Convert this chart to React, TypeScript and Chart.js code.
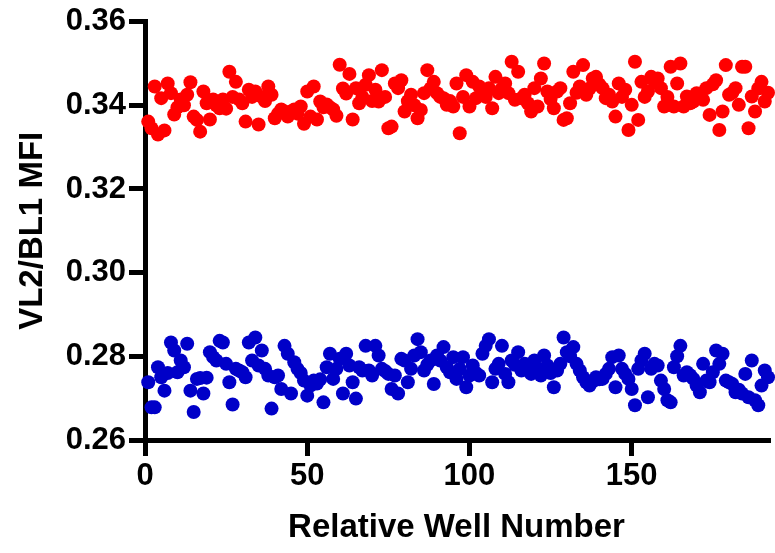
import { useEffect, useRef } from "react";
import { Chart, registerables } from "chart.js";

Chart.register(...registerables);

// Relative well numbers run 1..192; values below are listed in well order.
const redValues = [
  0.3361, 0.3345, 0.3445, 0.333, 0.3417, 0.334, 0.3452, 0.3429, 0.3378, 0.3395,
  0.3414, 0.34, 0.3425, 0.3455, 0.3373, 0.3365, 0.3337, 0.3433, 0.3405, 0.3366,
  0.3414, 0.34, 0.3393, 0.3414, 0.3392, 0.348, 0.342, 0.3456, 0.3414, 0.3405,
  0.3361, 0.3437, 0.342, 0.3433, 0.3354, 0.342, 0.341, 0.3445, 0.3425, 0.3369,
  0.338, 0.339, 0.3385, 0.3373, 0.3385, 0.339, 0.338, 0.3397, 0.3356, 0.3433,
  0.3373, 0.3445, 0.3366, 0.3409, 0.3395, 0.3402, 0.3395, 0.339, 0.3375, 0.3497,
  0.344, 0.3428, 0.3475, 0.3366, 0.3441, 0.3405, 0.342, 0.3449, 0.3472, 0.341,
  0.3437, 0.3409, 0.3484, 0.342, 0.3345, 0.3349, 0.3452, 0.3441, 0.346, 0.3385,
  0.341, 0.3425, 0.34, 0.3369, 0.3389, 0.3429, 0.3484, 0.344, 0.3456, 0.3429,
  0.342, 0.3417, 0.3401, 0.341, 0.3397, 0.3452, 0.3333, 0.342, 0.3472, 0.3397,
  0.3456, 0.3417, 0.3445, 0.3425, 0.342, 0.3441, 0.3393, 0.3468, 0.3429, 0.344,
  0.3452, 0.3429, 0.3504, 0.3413, 0.348, 0.3417, 0.3425, 0.3405, 0.3385, 0.3441,
  0.3397, 0.3464, 0.35, 0.3433, 0.3415, 0.3393, 0.3433, 0.3441, 0.3365, 0.3369,
  0.3405, 0.348, 0.343, 0.3445, 0.3496, 0.3425, 0.344, 0.3464, 0.3468, 0.345,
  0.3441, 0.3417, 0.3425, 0.3409, 0.3373, 0.3452, 0.342, 0.3437, 0.3341, 0.3401,
  0.3504, 0.3365, 0.3456, 0.342, 0.3433, 0.3468, 0.3456, 0.3464, 0.3441, 0.3397,
  0.342, 0.3492, 0.3397, 0.3452, 0.35, 0.3397, 0.3421, 0.3405, 0.3409, 0.3429,
  0.342, 0.3413, 0.3441, 0.3377, 0.345, 0.346, 0.3341, 0.3385, 0.3496, 0.3425,
  0.343, 0.3441, 0.3401, 0.3492, 0.3492, 0.3345, 0.3421, 0.3385, 0.344, 0.3456,
  0.3409, 0.343,
];

const blueValues = [
  0.2738, 0.2678, 0.2678, 0.2774, 0.275, 0.2718, 0.276, 0.2833, 0.2814, 0.2762,
  0.279, 0.2774, 0.283, 0.2718, 0.2667, 0.2746, 0.2748, 0.2711, 0.2749, 0.281,
  0.2798, 0.279, 0.2837, 0.2833, 0.2782, 0.2738, 0.2685, 0.277, 0.2766, 0.2762,
  0.275, 0.2833, 0.279, 0.2845, 0.2778, 0.2814, 0.277, 0.2754, 0.2675, 0.275,
  0.2754, 0.2722, 0.2825, 0.2806, 0.2711, 0.2786, 0.277, 0.276, 0.2742, 0.2706,
  0.273, 0.2742, 0.2735, 0.2745, 0.269, 0.2774, 0.2806, 0.2746, 0.277, 0.2794,
  0.2711, 0.2806, 0.2778, 0.2738, 0.2699, 0.2774, 0.2766, 0.2825, 0.2766, 0.2754,
  0.2825, 0.2802, 0.277, 0.2765, 0.2758, 0.2722, 0.2754, 0.2711, 0.2794, 0.279,
  0.2738, 0.277, 0.2802, 0.2841, 0.281, 0.2766, 0.278, 0.279, 0.2734, 0.2802,
  0.279, 0.2822, 0.2774, 0.2762, 0.2798, 0.2746, 0.277, 0.2798, 0.2726, 0.2754,
  0.2778, 0.276, 0.2754, 0.2806, 0.2825, 0.2841, 0.2738, 0.277, 0.2782, 0.2825,
  0.2758, 0.2738, 0.279, 0.278, 0.281, 0.2766, 0.2782, 0.277, 0.2758, 0.279,
  0.277, 0.2754, 0.2802, 0.2778, 0.276, 0.2726, 0.2766, 0.2782, 0.2845, 0.281,
  0.28, 0.2822, 0.2782, 0.2766, 0.275, 0.2738, 0.273, 0.274, 0.275, 0.2745,
  0.2746, 0.2758, 0.277, 0.2798, 0.2726, 0.2802, 0.277, 0.2758, 0.2746, 0.2722,
  0.2683, 0.277, 0.279, 0.2806, 0.2702, 0.277, 0.2782, 0.2778, 0.2742, 0.2722,
  0.2695, 0.269, 0.2774, 0.28, 0.2825, 0.2754, 0.2762, 0.2755, 0.2746, 0.273,
  0.2714, 0.2782, 0.2742, 0.2738, 0.2762, 0.2814, 0.2782, 0.2806, 0.2742, 0.2738,
  0.2734, 0.2714, 0.272, 0.2711, 0.2758, 0.2702, 0.279, 0.2695, 0.2683, 0.273,
  0.2766, 0.275,
];

const xTickValues = [0, 50, 100, 150];
const yTickValues = [0.26, 0.28, 0.3, 0.32, 0.34, 0.36];
const xTitle = "Relative Well Number";
const yTitle = "VL2/BL1 MFI";

const FONT = "'Liberation Sans', Arial, Helvetica, sans-serif";

export default function App() {
  const ref = useRef<HTMLCanvasElement | null>(null);

  useEffect(() => {
    document.body.style.margin = "0";
    if (!ref.current) return;
    const toPoints = (vals: number[]) => vals.map((v, i) => ({ x: i + 1, y: v }));
    const tickFont = { family: FONT, size: 31, weight: "bold" as const };
    const titleFont = { family: FONT, size: 33, weight: "bold" as const };
    const chart = new Chart(ref.current, {
      type: "scatter",
      data: {
        datasets: [
          {
            label: "red",
            data: toPoints(redValues),
            backgroundColor: "#ff0000",
            borderWidth: 0,
            pointRadius: 7,
            pointHoverRadius: 7,
            clip: false as any,
          },
          {
            label: "blue",
            data: toPoints(blueValues),
            backgroundColor: "#0000c8",
            borderWidth: 0,
            pointRadius: 7,
            pointHoverRadius: 7,
            clip: false as any,
          },
        ],
      },
      options: {
        animation: false,
        responsive: false,
        maintainAspectRatio: false,
        layout: { padding: { top: 20, right: 0, bottom: 0, left: 0 } },
        plugins: { legend: { display: false }, tooltip: { enabled: false } },
        scales: {
          x: {
            type: "linear",
            min: 0,
            max: 192,
            afterBuildTicks: (s: any) => {
              s.ticks = xTickValues.map((v) => ({ value: v }));
            },
            afterFit: (s: any) => {
              s.height = 113;
            },
            ticks: {
              color: "#000",
              font: tickFont,
              padding: 2,
              maxRotation: 0,
              autoSkip: false,
              callback: (v: any) => String(v),
            },
            grid: {
              drawOnChartArea: false,
              drawTicks: true,
              tickLength: 16,
              lineWidth: 5,
              color: "#000",
            },
            border: { display: true, width: 5, color: "#000" },
            title: {
              display: true,
              text: xTitle,
              color: "#000",
              font: titleFont,
              padding: { top: 0, bottom: 5 },
            },
          },
          y: {
            type: "linear",
            min: 0.26,
            max: 0.36,
            afterBuildTicks: (s: any) => {
              s.ticks = yTickValues.map((v) => ({ value: v }));
            },
            afterFit: (s: any) => {
              s.width = 145;
            },
            ticks: {
              color: "#000",
              font: tickFont,
              padding: 3,
              autoSkip: false,
              callback: (v: any) => Number(v).toFixed(2),
            },
            grid: {
              drawOnChartArea: false,
              drawTicks: true,
              tickLength: 16,
              lineWidth: 5,
              color: "#000",
            },
            border: { display: true, width: 5, color: "#000" },
            title: {
              display: true,
              text: yTitle,
              color: "#000",
              font: titleFont,
              padding: { top: 13, bottom: 0 },
            },
          },
        },
      },
    });
    return () => chart.destroy();
  }, []);

  return (
    <div style={{ width: 775, height: 553 }}>
      <canvas ref={ref} width={775} height={553} style={{ display: "block" }} />
    </div>
  );
}
